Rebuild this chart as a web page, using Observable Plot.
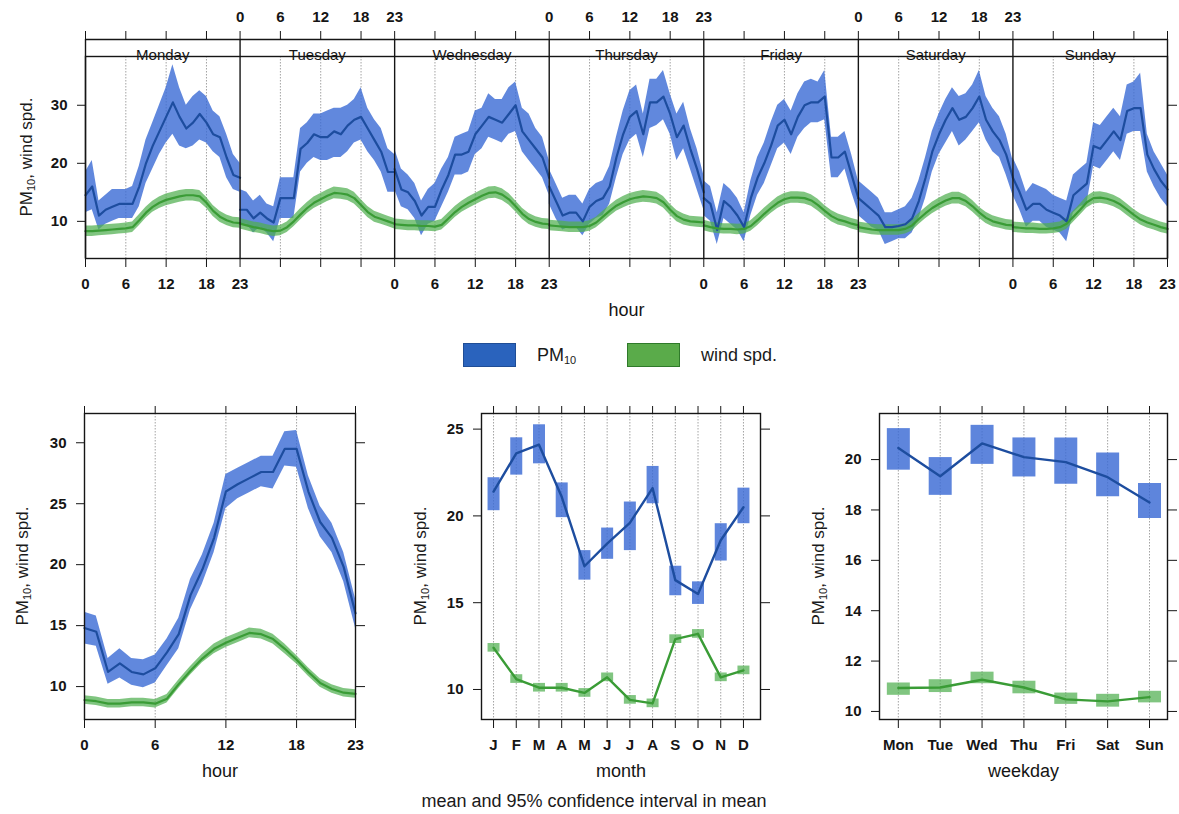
<!DOCTYPE html>
<html><head><meta charset="utf-8">
<script src="https://cdn.jsdelivr.net/npm/d3@7"></script>
<script src="https://cdn.jsdelivr.net/npm/@observablehq/plot@0.6"></script>
<style>
body{margin:0;background:#fff;}
#root{position:relative;width:1179px;height:814px;font-family:"Liberation Sans",Arial,sans-serif;color:#1a1a1a;overflow:hidden;background:#fff}
.panel{position:absolute}
.ylab{position:absolute;transform:translate(-50%,-50%) rotate(-90deg);white-space:nowrap;font-size:17px;line-height:1}
.ylab sub, .leg sub{font-size:11px;vertical-align:-3px}
.leg{position:absolute;font-size:18px;line-height:1;white-space:nowrap}
.sw{position:absolute;width:53px;height:24px;box-sizing:border-box}
.cap{position:absolute;font-size:18px;white-space:nowrap;transform:translate(-50%,-50%)}
</style></head>
<body><div id="root"></div>
<script>
// ---------------- DATA ----------------
const days = ["Monday","Tuesday","Wednesday","Thursday","Friday","Saturday","Sunday"];
const hourTicks = [0, 6, 12, 18, 23];
const gridHours = [6, 12, 18];

// PM10 mean / lower / upper by weekday (rows) and hour 0..23
const pmMean = [
 [14.5,16,11,12,12.5,13,13,13,16,20,23,25.5,28,30.5,28,26,27,28.5,27,25,24.5,21,18,17.5],
 [12,12,10.5,11.5,10.5,9.8,14,14,14,22.5,23.5,25,24.5,24.5,25.5,25,26.5,27.5,28,26,24,22,18.5,18.5],
 [19,15.5,15,13.5,11,12.5,12.5,15.5,18,21.5,21.5,22,25,26.5,28,27.5,27,28.5,30,25.5,24,22.5,21,17.5],
 [16,13.5,11,11.5,11.5,10,12.5,13.5,14,16,21,25,28,29,25,30.5,30.5,31.5,28.5,24.5,26.5,22.5,19,15],
 [14,13,8.5,13.5,12.5,11,9,14,17.5,20,23,26.5,27.5,25,28,30,30.5,30.5,31.5,21,21,22,18,14],
 [14,13,12,11,9,9,9.2,9.5,10.5,13.5,17.5,22,25,27.5,29.5,27.5,28,29.5,31.5,27.5,25.5,24,21.5,17.5],
 [17.5,15,12,13,13,12,11.5,11,10,14.5,15.5,16.5,23,22.5,24,25.5,24,29,29.5,29.5,21.5,19,17,15.5]
];
const pmLo = [
 [11.5,12,8.5,9.5,10,10.5,10.5,10.5,12.5,16.5,19,21.5,23.5,25,23,22.5,23,24,23.5,22,21,17.5,15.5,15],
 [9.5,9.5,8,9,8,6.5,10.5,10.5,10.5,18.5,20,21,20.5,20.5,21,21,22,23.5,24,22,20.5,18.5,15,15],
 [15.5,12.5,12,10.5,7.5,9.5,10,12.5,15,18,18,18.5,21.5,22.5,24.5,24,23.5,25,25.5,22,20.5,19,17.5,14.5],
 [13,10.5,8.5,9,9,7.5,9.5,10.5,11,13,17.5,21.5,24,25,21,26,26.5,27.5,25,20.5,22.5,19,15.5,12],
 [11,10,6,10.5,9.5,8.5,6.5,11,14.5,16.5,19.5,22.5,23.5,21.5,24.5,26,27,27,27.5,17.5,17.5,19,15,11.5],
 [11,10,9,8.5,6,6.5,7,7,8,10.5,14,18.5,21.5,23.5,25.5,23,24,25.5,27,24,22,21,18,14.5],
 [14.5,12,9,10,10,9,8.5,8,6.5,11.5,12.5,13,19.5,19,20.5,22,20.5,25,25.5,25.5,18.5,16,14,12.5]
];
const pmHi = [
 [18.5,20.5,13.5,14.5,15.5,15.5,15.5,16,19.5,24,27,30,33,37,33,30,31.5,32.5,31.5,29,28,25,21.5,20],
 [15.5,15,13.5,14.5,13,12.5,17.5,17.5,17.5,26,27,28.5,28.5,29,29.5,29.5,30,31,33,29.5,27.5,26,22.5,21.5],
 [22.5,19,18,16.5,13.5,15.5,16.5,19,21,24.5,25,25.5,29,29.5,32,31,31,33,34,29.5,28.5,26,24.5,20.5],
 [19,16.5,14,14.5,14.5,13,15.5,16.5,17,19.5,24.5,29,32.5,33.5,28.5,34.5,34.5,36,32,28.5,30.5,26,22.5,18],
 [17,16,11.5,16.5,15.5,14,11.5,17,21,23.5,27,30,31,29,32,34,34.5,34,36,24.5,24.5,25.5,21.5,17],
 [17,16,15,14,11.5,11.5,12,12.5,14,17,21,25.5,28.5,31,33,31.5,32,33.5,36,31.5,29.5,28,25,20.5],
 [21,18.5,15,16.5,16,15.5,14.5,14,13.5,18,19,20,27,26.5,28,29.5,28,33.5,34,35.5,25,22,20,18]
];
// wind speed mean by weekday and hour, and CI half-width by hour
const windMean = [
 [8.3,8.3,8.4,8.5,8.6,8.7,8.8,9.0,10.2,11.5,12.5,13.2,13.7,14.0,14.3,14.5,14.5,14.3,13.2,11.8,10.8,10.2,9.8,9.7],
 [9.6,9.3,9.0,8.8,8.5,8.3,8.4,9.0,10.0,11.2,12.3,13.2,13.8,14.4,14.9,14.8,14.6,14.0,12.8,11.6,10.8,10.4,10.0,9.6],
 [9.5,9.4,9.3,9.3,9.2,9.2,9.1,9.4,10.5,11.6,12.5,13.2,13.8,14.4,14.9,15.0,14.6,13.8,12.6,11.3,10.4,9.9,9.6,9.5],
 [9.3,9.2,9.1,9.0,9.0,9.0,9.2,9.8,10.8,11.8,12.7,13.3,13.8,14.1,14.3,14.2,14.0,13.3,12.0,10.9,10.3,10.0,9.9,9.8],
 [9.3,9.0,8.8,8.7,8.7,8.6,8.7,9.2,10.2,11.3,12.3,13.2,13.8,14.1,14.1,14.0,13.6,12.8,11.8,10.9,10.3,10.0,9.6,9.3],
 [9.0,8.8,8.6,8.5,8.5,8.5,8.5,8.7,9.3,10.4,11.4,12.3,13.0,13.6,14.0,14.0,13.5,12.6,11.5,10.6,10.0,9.7,9.4,9.3],
 [9.0,8.9,8.8,8.8,8.7,8.7,8.8,9.0,9.6,10.8,12.0,13.3,14.0,14.1,13.9,13.5,12.9,12.0,11.1,10.3,9.8,9.4,9.0,8.7]
];
const windCi = [0.9,0.9,0.9,0.9,0.9,0.9,0.9,0.9,0.95,0.95,0.95,1.0,1.0,1.0,1.0,1.0,1.0,1.0,0.95,0.95,0.95,0.9,0.9,0.9];

// all-days hourly panel
const hourPm   = [14.8,14.5,11.2,11.9,11.2,11.0,11.5,12.8,14.3,17.5,19.6,22.2,26.0,26.6,27.1,27.6,27.6,29.5,29.5,26.0,23.5,22.2,19.8,16.0];
const hourPmLo = [13.5,13.3,10.2,10.7,10.1,9.9,10.3,11.7,13.1,16.3,18.4,21.0,24.6,25.4,25.9,26.4,26.2,28.1,28.0,24.6,22.3,21.0,18.6,14.8];
const hourPmHi = [16.1,15.8,12.3,13.1,12.3,12.2,12.6,13.9,15.6,18.8,20.8,23.4,27.4,27.9,28.4,28.9,28.9,30.9,31.0,27.3,24.8,23.4,21.0,17.2];
const hourWind = [8.9,8.8,8.6,8.6,8.7,8.7,8.6,9.0,10.2,11.3,12.3,13.1,13.6,14.0,14.4,14.3,13.9,13.1,12.2,11.2,10.3,9.8,9.5,9.4];
const hourWindCi = [0.35,0.35,0.35,0.35,0.35,0.35,0.35,0.35,0.35,0.35,0.35,0.4,0.4,0.4,0.4,0.4,0.4,0.4,0.35,0.35,0.35,0.35,0.35,0.35];

// month panel
const months = ["J","F","M","A","M","J","J","A","S","O","N","D"];
const monthPm   = [21.4,23.6,24.1,21.1,17.1,18.4,19.6,21.6,16.3,15.5,18.6,20.5];
const monthPmLo = [20.3,22.35,23.0,19.9,16.3,17.5,18.0,20.7,15.4,14.9,17.4,19.55];
const monthPmHi = [22.2,24.5,25.25,21.9,18.0,19.3,20.8,22.85,17.1,16.2,19.55,21.6];
const monthWind   = [12.4,10.6,10.1,10.1,9.8,10.7,9.4,9.2,12.9,13.2,10.7,11.1];
const monthWindLo = [12.15,10.35,9.85,9.85,9.55,10.45,9.15,8.95,12.65,12.95,10.45,10.85];
const monthWindHi = [12.65,10.85,10.35,10.35,10.05,10.95,9.65,9.45,13.15,13.45,10.95,11.35];

// weekday panel
const weekdays = ["Mon","Tue","Wed","Thu","Fri","Sat","Sun"];
const wdPm   = [20.46,19.34,20.64,20.1,19.9,19.3,18.3];
const wdPmLo = [19.58,18.58,19.81,19.31,19.02,18.52,17.66];
const wdPmHi = [21.23,20.08,21.36,20.86,20.86,20.26,19.05];
const wdWind   = [10.93,10.95,11.26,10.95,10.48,10.4,10.57];
const wdWindLo = [10.64,10.75,11.1,10.7,10.28,10.17,10.34];
const wdWindHi = [11.13,11.26,11.56,11.2,10.73,10.68,10.8];

// ---------------- STYLE ----------------
const BLUE_BAND = "#3a6ad4", GREEN_BAND = "#4fae4f";
const BLUE_LINE = "#1d4d9f", GREEN_LINE = "#3a9c36";
const INK = "#151515";
const FONT = "'Liberation Sans', Arial, sans-serif";
const grid = {stroke: "#8c8c8c", strokeWidth: 1, strokeDasharray: "1.5,1.5", strokeOpacity: 0.8};
const tickFont = {fontSize: 15, fontWeight: "bold"};
const root = document.getElementById("root");

function place(el, left, topPx) {
  const d = document.createElement("div");
  d.className = "panel"; d.style.left = left + "px"; d.style.top = topPx + "px";
  d.appendChild(el); root.appendChild(d);
}
function html(cls, left, topPx, inner, extra = "") {
  const d = document.createElement("div");
  d.className = cls; d.style.left = left + "px"; d.style.top = topPx + "px";
  d.innerHTML = inner; if (extra) d.style.cssText += extra;
  root.appendChild(d);
}
const yTitle = "PM<sub>10</sub>, wind spd.";

// ---------------- TOP: hour by weekday ----------------
const span = hourTicks[hourTicks.length - 1];
const rows = [];
days.forEach((day, d) => {
  pmMean[d].forEach((v, h) => rows.push({
    day, x: d * span + h, pm: v, pmLo: pmLo[d][h], pmHi: pmHi[d][h],
    w: windMean[d][h], wLo: windMean[d][h] - windCi[h], wHi: windMean[d][h] + windCi[h]
  }));
});
const xMax = days.length * span;
const allTicks = Array.from(new Set(days.flatMap((_, d) => hourTicks.map(h => d * span + h))));
const bottomLab = new Map(), topLab = new Map();
days.forEach((_, d) => hourTicks.forEach(h => (d % 2 === 0 ? bottomLab : topLab).set(d * span + h, String(h))));
const gridTop = days.flatMap((_, d) => gridHours.map(h => d * span + h));
const bounds = days.map((_, d) => d * span).concat([xMax]);
const yTopDomain = [3.6, 38.4];

const topPlot = Plot.plot({
  width: 1179, height: 330,
  marginLeft: 85, marginRight: 12, marginTop: 56, marginBottom: 72,
  style: {fontFamily: FONT, color: INK, background: "transparent", overflow: "visible"},
  x: {domain: [0, xMax]},
  y: {domain: yTopDomain},
  marks: [
    Plot.ruleX(gridTop, grid),
    Plot.areaY(rows, {x: "x", y1: "pmLo", y2: "pmHi", z: "day", fill: BLUE_BAND, fillOpacity: 0.8}),
    Plot.areaY(rows, {x: "x", y1: "wLo", y2: "wHi", z: "day", fill: GREEN_BAND, fillOpacity: 0.72}),
    Plot.line(rows, {x: "x", y: "pm", z: "day", stroke: BLUE_LINE, strokeWidth: 2.2}),
    Plot.line(rows, {x: "x", y: "w", z: "day", stroke: GREEN_LINE, strokeWidth: 2.2}),
    Plot.ruleY([yTopDomain[1]], {dy: -17, stroke: INK, strokeWidth: 1.4}),
    Plot.ruleX(bounds, {insetTop: -17, stroke: INK, strokeWidth: 1.4}),
    Plot.frame({stroke: INK, strokeWidth: 1.4}),
    Plot.text(days, {x: (d, i) => i * span + span / 2, frameAnchor: "top", lineAnchor: "bottom", dy: 3, text: d => d, fontSize: 15, fill: INK}),
    Plot.axisX({anchor: "bottom", ticks: allTicks, tickSize: 9, tickPadding: 11, tickFormat: v => bottomLab.get(v) ?? "", label: null, ...tickFont}),
    Plot.axisX({anchor: "top", ticks: allTicks, tickSize: 9, tickPadding: 9, dy: -17, tickFormat: v => topLab.get(v) ?? "", label: null, ...tickFont}),
    Plot.axisY({anchor: "left", ticks: [10, 20, 30], tickSize: 8, tickPadding: 10, label: null, ...tickFont}),
    Plot.axisY({anchor: "right", ticks: [10, 20, 30], tickSize: 9, tickFormat: () => "", label: null}),
    Plot.text(["hour"], {frameAnchor: "bottom", dy: 57, text: d => d, fontSize: 18, fill: INK})
  ]
});
place(topPlot, 0, 0);
html("ylab", 27, 157, yTitle);

// ---------------- LEGEND ----------------
html("sw", 463, 343, "", "background:#2a63bd;border:1px solid #1f4d96;");
html("leg", 537, 346, "PM<sub>10</sub>");
html("sw", 627, 343, "", "background:#5aab4a;border:1px solid #2f7a2a;");
html("leg", 701, 346, "wind spd.");

// ---------------- BOTTOM LEFT: hour ----------------
const hourRows = hourPm.map((v, h) => ({h, pm: v, lo: hourPmLo[h], hi: hourPmHi[h],
  w: hourWind[h], wLo: hourWind[h] - hourWindCi[h], wHi: hourWind[h] + hourWindCi[h]}));
const hourPlot = Plot.plot({
  width: 380, height: 400, marginLeft: 84, marginRight: 25, marginTop: 18, marginBottom: 76,
  style: {fontFamily: FONT, color: INK, background: "transparent", overflow: "visible"},
  x: {domain: [0, span]}, y: {domain: [7.3, 32.4]},
  marks: [
    Plot.ruleX(gridHours, grid),
    Plot.areaY(hourRows, {x: "h", y1: "lo", y2: "hi", fill: BLUE_BAND, fillOpacity: 0.8}),
    Plot.areaY(hourRows, {x: "h", y1: "wLo", y2: "wHi", fill: GREEN_BAND, fillOpacity: 0.72}),
    Plot.line(hourRows, {x: "h", y: "pm", stroke: BLUE_LINE, strokeWidth: 2.2}),
    Plot.line(hourRows, {x: "h", y: "w", stroke: GREEN_LINE, strokeWidth: 2.2}),
    Plot.frame({stroke: INK, strokeWidth: 1.4}),
    Plot.axisX({anchor: "bottom", ticks: hourTicks, tickSize: 9, tickPadding: 11, label: null, ...tickFont}),
    Plot.axisX({anchor: "top", ticks: hourTicks, tickSize: 8, tickFormat: () => "", label: null}),
    Plot.axisY({anchor: "left", ticks: [10, 15, 20, 25, 30], tickSize: 8, tickPadding: 10, label: null, ...tickFont}),
    Plot.axisY({anchor: "right", ticks: [10, 15, 20, 25, 30], tickSize: 9, tickFormat: () => "", label: null}),
    Plot.text(["hour"], {frameAnchor: "bottom", dy: 57, text: d => d, fontSize: 18, fill: INK})
  ]
});
place(hourPlot, 0, 395);
html("ylab", 23, 566, yTitle);

// ---------------- BOTTOM MIDDLE: month ----------------
const monthRows = months.map((m, i) => ({m: i + 1, pm: monthPm[i], lo: monthPmLo[i], hi: monthPmHi[i],
  w: monthWind[i], wLo: monthWindLo[i], wHi: monthWindHi[i]}));
const monthIdx = months.map((_, i) => i + 1);
const monthPlot = Plot.plot({
  width: 400, height: 400, marginLeft: 101, marginRight: 20, marginTop: 18, marginBottom: 76,
  style: {fontFamily: FONT, color: INK, background: "transparent", overflow: "visible"},
  x: {domain: [0.47, 12.75]}, y: {domain: [8.27, 25.9]},
  marks: [
    Plot.ruleX(monthIdx, grid),
    Plot.ruleX(monthRows, {x: "m", y1: "lo", y2: "hi", stroke: BLUE_BAND, strokeWidth: 12, strokeOpacity: 0.82}),
    Plot.ruleX(monthRows, {x: "m", y1: "wLo", y2: "wHi", stroke: GREEN_BAND, strokeWidth: 12, strokeOpacity: 0.72}),
    Plot.line(monthRows, {x: "m", y: "pm", stroke: BLUE_LINE, strokeWidth: 2.4}),
    Plot.line(monthRows, {x: "m", y: "w", stroke: GREEN_LINE, strokeWidth: 2.4}),
    Plot.frame({stroke: INK, strokeWidth: 1.4}),
    Plot.axisX({anchor: "bottom", ticks: monthIdx, tickSize: 9, tickPadding: 11, tickFormat: v => months[v - 1], label: null, ...tickFont}),
    Plot.axisX({anchor: "top", ticks: monthIdx, tickSize: 8, tickFormat: () => "", label: null}),
    Plot.axisY({anchor: "left", ticks: [10, 15, 20, 25], tickSize: 8, tickPadding: 10, label: null, ...tickFont}),
    Plot.axisY({anchor: "right", ticks: [10, 15, 20, 25], tickSize: 9, tickFormat: () => "", label: null}),
    Plot.text(["month"], {frameAnchor: "bottom", dy: 57, text: d => d, fontSize: 18, fill: INK})
  ]
});
place(monthPlot, 380, 395);
html("ylab", 421, 566, yTitle);
html("cap", 594, 801, "mean and 95% confidence interval in mean");

// ---------------- BOTTOM RIGHT: weekday ----------------
const wdRows = weekdays.map((w, i) => ({k: i + 1, pm: wdPm[i], lo: wdPmLo[i], hi: wdPmHi[i],
  w: wdWind[i], wLo: wdWindLo[i], wHi: wdWindHi[i]}));
const wdIdx = weekdays.map((_, i) => i + 1);
const wdPlot = Plot.plot({
  width: 399, height: 400, marginLeft: 99, marginRight: 12, marginTop: 18, marginBottom: 76,
  style: {fontFamily: FONT, color: INK, background: "transparent", overflow: "visible"},
  x: {domain: [0.55, 7.43]}, y: {domain: [9.68, 21.83]},
  marks: [
    Plot.ruleX(wdIdx, grid),
    Plot.ruleX(wdRows, {x: "k", y1: "lo", y2: "hi", stroke: BLUE_BAND, strokeWidth: 23, strokeOpacity: 0.82}),
    Plot.ruleX(wdRows, {x: "k", y1: "wLo", y2: "wHi", stroke: GREEN_BAND, strokeWidth: 23, strokeOpacity: 0.72}),
    Plot.line(wdRows, {x: "k", y: "pm", stroke: BLUE_LINE, strokeWidth: 2.4}),
    Plot.line(wdRows, {x: "k", y: "w", stroke: GREEN_LINE, strokeWidth: 2.4}),
    Plot.frame({stroke: INK, strokeWidth: 1.4}),
    Plot.axisX({anchor: "bottom", ticks: wdIdx, tickSize: 9, tickPadding: 11, tickFormat: v => weekdays[v - 1], label: null, ...tickFont}),
    Plot.axisX({anchor: "top", ticks: wdIdx, tickSize: 8, tickFormat: () => "", label: null}),
    Plot.axisY({anchor: "left", ticks: [10, 12, 14, 16, 18, 20], tickSize: 8, tickPadding: 10, label: null, ...tickFont}),
    Plot.axisY({anchor: "right", ticks: [10, 12, 14, 16, 18, 20], tickSize: 9, tickFormat: () => "", label: null}),
    Plot.text(["weekday"], {frameAnchor: "bottom", dy: 57, text: d => d, fontSize: 18, fill: INK})
  ]
});
place(wdPlot, 780, 395);
html("ylab", 819, 566, yTitle);
</script></body></html>
